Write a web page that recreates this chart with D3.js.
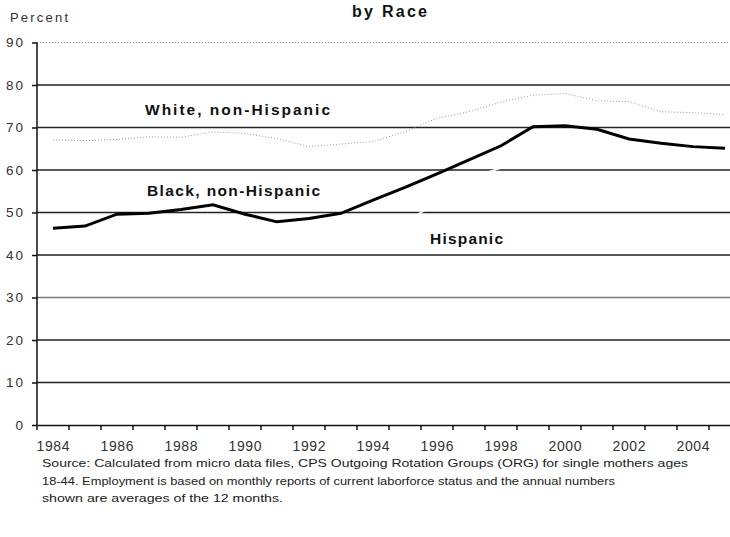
<!DOCTYPE html>
<html><head><meta charset="utf-8">
<script src="https://cdn.jsdelivr.net/npm/d3@7"></script>
<style>body{margin:0;background:#fff}svg{display:block}text{font-family:"Liberation Sans",Arial,sans-serif}</style>
</head><body><svg id="c" width="730" height="537"></svg>
<script>
const years = [1984,1985,1986,1987,1988,1989,1990,1991,1992,1993,1994,1995,1996,1997,1998,1999,2000,2001,2002,2003,2004,2005];
const white = [67.1,66.9,67.2,67.8,67.7,69.0,68.6,67.4,65.5,66.1,66.7,69.0,72.2,73.7,76.0,77.6,78.0,76.3,76.1,73.7,73.5,73.0];
const black = [46.3,46.8,49.6,49.8,50.7,51.8,49.6,47.8,48.6,49.8,52.9,55.9,59.1,62.4,65.7,70.2,70.4,69.6,67.3,66.3,65.5,65.1];
const hispanic = [44.0,44.0,44.5,45.0,46.0,47.0,47.0,46.0,45.5,46.0,46.5,47.5,52.5,58.0,60.5,62.5,63.5,63.0,62.0,61.5,62.0,62.5];
const yTicks = [0,10,20,30,40,50,60,70,80,90];
const xLabels = [1984,1986,1988,1990,1992,1994,1996,1998,2000,2002,2004];
const title = "by Race";
const yTitle = "Percent";
const seriesLabels = ["White, non-Hispanic","Black, non-Hispanic","Hispanic"];
const source = ["Source: Calculated from micro data files, CPS Outgoing Rotation Groups (ORG) for single mothers ages",
 "18-44. Employment is based on monthly reports of current laborforce status and the annual numbers",
 "shown are averages of the 12 months."];

const svg = d3.select("#c");
const x = d3.scaleBand().domain(years).range([37, 741]).padding(0);
const y = d3.scaleLinear().domain([0, 90]).range([425, 42.5]);
const cx = d => x(d) + x.bandwidth()/2;

// gridlines
svg.append("g").selectAll("line").data(yTicks.filter(t => t > 0)).join("line")
  .attr("x1", 37).attr("x2", 741).attr("y1", d => y(d)).attr("y2", d => y(d))
  .attr("stroke", d => d === 90 ? "#999" : (d === 30 ? "#777" : "#222"))
  .attr("stroke-width", d => d === 90 ? 1 : 1.5)
  .attr("stroke-dasharray", d => d === 90 ? "1,2" : null);

// y axis
const yAxis = d3.axisLeft(y).tickValues(yTicks).tickSize(5).tickPadding(7);
const gy = svg.append("g").attr("transform", "translate(37,0)").call(yAxis);
gy.select(".domain").attr("stroke", "#111").attr("stroke-width", 1.5).attr("d", "M0,42.5V425");
gy.selectAll(".tick line").attr("stroke", "#111").attr("stroke-width", 1.5);
gy.selectAll(".tick text").attr("font-size", 13.5).attr("fill", "#333").attr("letter-spacing", "2px")
  .attr("font-family", "Liberation Sans, Arial, sans-serif");

// x axis
const xAxis = d3.axisBottom(x).tickValues([]).tickSize(0);
const gx = svg.append("g").attr("transform", "translate(0,425)").call(xAxis);
gx.select(".domain").attr("stroke", "#111").attr("stroke-width", 1.5);
gx.selectAll("line.xt").data(years.concat([null])).join("line").attr("class","xt")
  .attr("x1", (d,i) => 37 + i*x.bandwidth()).attr("x2", (d,i) => 37 + i*x.bandwidth())
  .attr("y1", 0).attr("y2", 5).attr("stroke", "#111").attr("stroke-width", 1.5);
gx.selectAll("text.xl").data(xLabels).join("text").attr("class","xl")
  .attr("x", d => cx(d)).attr("y", 26).attr("text-anchor", "middle")
  .attr("font-size", 14).attr("fill", "#333")
  .attr("textLength", 33).attr("lengthAdjust", "spacing").text(d => d);

// lines
const line = d3.line().x((d,i) => cx(years[i])).y(d => y(d));
svg.append("path").datum(hispanic).attr("d", line).attr("fill", "none")
  .attr("stroke", "#fff").attr("stroke-width", 2);
svg.append("path").datum(white).attr("d", line).attr("fill", "none")
  .attr("stroke", "#999").attr("stroke-width", 1).attr("stroke-dasharray", "1,2");
svg.append("path").datum(black).attr("d", line).attr("fill", "none")
  .attr("stroke", "#000").attr("stroke-width", 3);

// series labels
const lab = [[145, 115, 185], [147, 196, 173], [430, 244, 73]];
svg.selectAll("text.sl").data(seriesLabels).join("text").attr("class","sl")
  .attr("x", (d,i) => lab[i][0]).attr("y", (d,i) => lab[i][1])
  .attr("textLength", (d,i) => lab[i][2]).attr("lengthAdjust", "spacing")
  .attr("font-size", 15.5).attr("font-weight", "bold").attr("fill", "#111").text(d => d);

// titles
svg.append("text").attr("x", 352).attr("y", 17)
  .attr("textLength", 75).attr("lengthAdjust", "spacing")
  .attr("font-size", 16).attr("font-weight", "bold").attr("fill", "#111").text(title);
svg.append("text").attr("x", 10).attr("y", 22).attr("font-size", 13).attr("fill", "#333")
  .attr("textLength", 58).attr("lengthAdjust", "spacing").text(yTitle);

// source note
const srcW = [646, 573, 241];
svg.selectAll("text.src").data(source).join("text").attr("class","src")
  .attr("x", 42).attr("y", (d,i) => 467 + i*17.5).attr("font-size", 11.5).attr("fill", "#222")
  .attr("textLength", (d,i) => srcW[i]).attr("lengthAdjust", "spacingAndGlyphs").text(d => d);
</script></body></html>
